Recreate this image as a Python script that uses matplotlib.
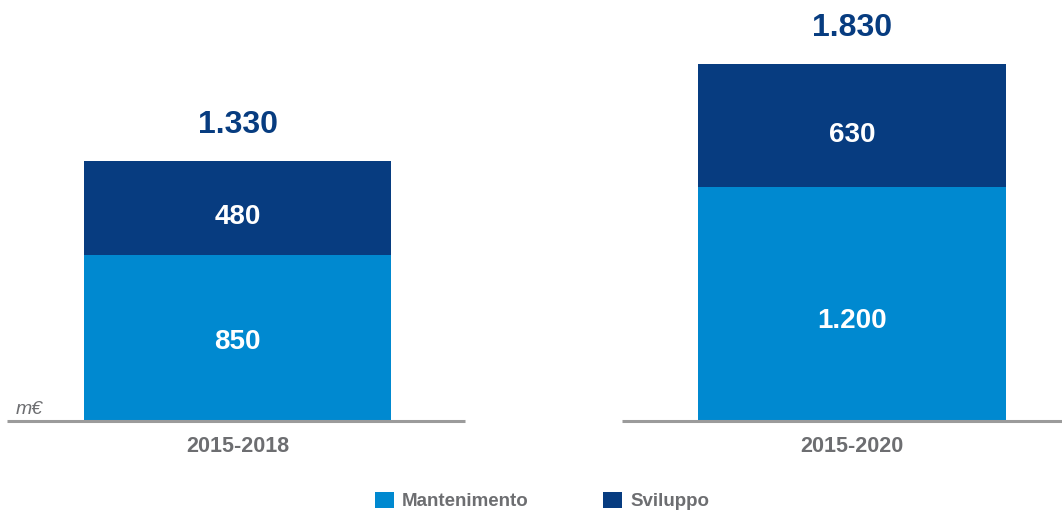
import numpy as np
import matplotlib.pyplot as plt

plt.rcParams['font.family'] = ['Liberation Sans', 'DejaVu Sans']

periodi = ["2015-2018", "2015-2020"]
mantenimento = [850, 1200]
sviluppo = [480, 630]
totali = ["1.330", "1.830"]
etichette_mant = ["850", "1.200"]
etichette_svil = ["480", "630"]

col_chiaro = "#0089d0"
col_scuro = "#073c80"
grigio = "#6d6e71"

W, H = 1062, 514
fig = plt.figure(figsize=(W / 100, H / 100), dpi=100)

base_px = 421          # y pixel of the baseline (from top)
px_per_unit = 0.1952   # bar scale
ax = fig.add_axes([0, (H - base_px) / H, 1, base_px / H])
ax.set_ylim(0, base_px / px_per_unit)
ax.set_xlim(-0.3865, 1.3417)
ax.axis("off")

x = np.arange(len(periodi))
b1 = ax.bar(x, mantenimento, width=0.5, color=col_chiaro, label="Mantenimento")
b2 = ax.bar(x, sviluppo, width=0.5, bottom=mantenimento, color=col_scuro, label="Sviluppo")

# baseline segments under each bar
for xi in x:
    ax.hlines(0, xi - 0.375, xi + 0.37, color="#9b9b9b", lw=2.2, clip_on=False)

# label shifts (pixels, downward) as placed in the original slide
off_mant = [4, 17]
off_svil = [9, 10]
for i in range(len(x)):
    ax.text(x[i], mantenimento[i] / 2 - off_mant[i] / px_per_unit, etichette_mant[i],
            ha="center", va="center", color="white", fontsize=20, fontweight="bold")
    ax.text(x[i], mantenimento[i] + sviluppo[i] / 2 - off_svil[i] / px_per_unit,
            etichette_svil[i], ha="center", va="center", color="white",
            fontsize=20, fontweight="bold")
    ax.text(x[i], mantenimento[i] + sviluppo[i] + 36 / px_per_unit, totali[i],
            ha="center", va="center", color=col_scuro, fontsize=23, fontweight="bold")
    ax.text(x[i], -25 / px_per_unit, periodi[i], ha="center", va="center",
            color=grigio, fontsize=15.5, fontweight="bold")

fig.text(16 / W, 1 - 410 / H, "m€", ha="left", va="center", color=grigio,
         fontsize=14, style="italic")

fig.legend(handles=[b1, b2], loc="center", bbox_to_anchor=(542 / W, 1 - 501 / H),
           ncol=2, frameon=False,
           handlelength=1.0, handleheight=1.0, handletextpad=0.43,
           columnspacing=4.0, prop={"weight": "bold", "size": 13.5})
for t in fig.legends[0].get_texts():
    t.set_color(grigio)

fig.savefig("out.png", dpi=100)
